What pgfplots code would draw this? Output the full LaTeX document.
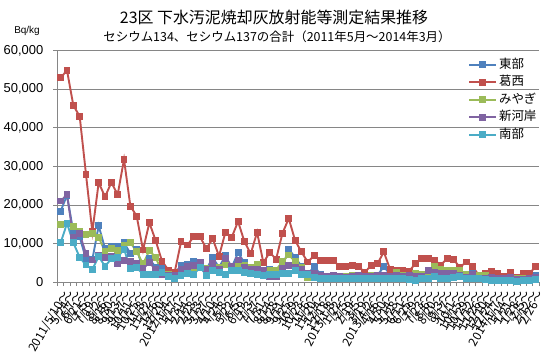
\documentclass[border=0pt]{standalone}
\usepackage{fontspec}
\setmainfont{Liberation Sans}
\newfontfamily\cjk{Noto Sans CJK JP}
\usepackage{pgfplots}
\pgfplotsset{compat=1.18}
\definecolor{cBlue}{HTML}{4F81BD}
\definecolor{cRed}{HTML}{C0504D}
\definecolor{cGreen}{HTML}{9BBB59}
\definecolor{cPurple}{HTML}{8064A2}
\definecolor{cCyan}{HTML}{4BACC6}
\definecolor{axisgray}{HTML}{868686}
\begin{document}
\begin{tikzpicture}
\path[use as bounding box] (0,0) rectangle (544bp,364bp);
\node[font=\cjk\fontsize{16}{16}\selectfont] at (274bp,347bp) {23区 下水汚泥焼却灰放射能等測定結果推移};
\node[font=\cjk\fontsize{12.5}{12.5}\selectfont] at (277bp,327bp) {セシウム134、セシウム137の合計（2011年5月～2014年3月）};
\node[font=\fontsize{10}{10}\selectfont] at (27bp,333bp) {Bq/kg};
\begin{axis}[
  at={(57.5bp,82bp)}, anchor=south west,
  scale only axis, width=481.5bp, height=231.3bp,
  xmin=-0.5, xmax=75.5, ymin=0, ymax=60000,
  clip=false,
  axis x line*=bottom, axis y line*=left,
  axis line style={color=axisgray, line width=0.75bp},
  ymajorgrids, major grid style={color=axisgray, line width=0.75bp},
  xtick={0,...,75},
  xticklabels={2011/5/10～,5/24～,6/7～,6/21～,7/5～,7/19～,8/2～,8/16～,8/30～,9/13～,9/27～,10/11～,10/25～,11/8～,11/22～,12/6～,12/20～,2012/1/4～,1/17～,1/31～,2/14～,2/28～,3/13～,3/27～,4/10～,4/24～,5/8～,5/22～,6/5～,6/19～,7/3～,7/17～,7/31～,8/14～,8/28～,9/11～,9/25～,10/9～,10/23～,11/6～,11/20～,12/4～,12/18～,2013/1/8～,1/22～,2/5～,2/19～,3/5～,3/19～,2013/4/2～,4/16～,4/30～,5/14～,5/28～,6/11～,6/25～,7/9～,7/23～,8/6～,8/20～,9/3～,9/17～,10/1～,10/15～,10/29～,11/12～,11/26～,12/10～,12/24～,2014/1/7～,1/14～,1/21～,1/28～,2/5～,2/12～,2/26～},
  minor xtick={-0.5,0.5,...,75.5},
  ytick={0,10000,...,60000},
  minor ytick={0,10000,...,60000},
  major tick length=0pt, minor tick length=4bp, tick align=outside,
  minor tick style={color=axisgray, line width=0.75bp},
  scaled y ticks=false,
  /pgf/number format/1000 sep={,},
  /pgf/number format/assume math mode=true,
  yticklabel style={font=\fontsize{13}{13}\selectfont, anchor=east, inner sep=0pt, xshift=-14bp},
  xticklabel style={font=\cjk\fontsize{12}{12}\selectfont, rotate=60, anchor=east, inner sep=0pt, yshift=-10bp, xshift=-6bp},
  every axis plot/.append style={line width=1.9bp, mark=square*, mark size=2.5bp, mark options={solid}},
  legend style={at={(0.8525,0.968)}, anchor=north west, draw=none, fill=none, inner sep=0pt,
    font=\cjk\fontsize{12.5}{12.5}\selectfont, column sep=2bp, row sep=5bp,
    nodes={inner sep=0pt, text height=10bp, text depth=2.5bp}},
  legend cell align=left,
  legend image code/.code={\draw[mark repeat=2,mark phase=2,#1] plot coordinates {(0bp,0bp) (13.5bp,0bp) (27bp,0bp)};},
]
\addplot[color=cBlue] coordinates {(0,18400)(1,22500)(2,13000)(3,11700)(4,5900)(5,5800)(6,14600)(7,8700)(8,9300)(9,9100)(10,10200)(11,7400)(12,8500)(13,3500)(14,6000)(15,3800)(16,3500)(17,1800)(18,2100)(19,4400)(20,4600)(21,5400)(22,4600)(23,3300)(24,6300)(25,3800)(26,6800)(27,3800)(28,7600)(29,5000)(30,3800)(31,3500)(32,3100)(33,3300)(34,2500)(35,4000)(36,8500)(37,6400)(38,4100)(39,1800)(40,4100)(41,2000)(42,1500)(43,1500)(44,1500)(45,1500)(46,1500)(47,1600)(48,1400)(49,1500)(50,1700)(51,4000)(52,2000)(53,1600)(54,1500)(55,1500)(56,1600)(57,1800)(58,2000)(59,2900)(60,2200)(61,2000)(62,2200)(63,1800)(64,1300)(65,2400)(66,1200)(67,1200)(68,1000)(69,1000)(70,1300)(71,1500)(72,800)(73,1000)(74,1300)(75,1800)};
\addlegendentry{東部}
\addplot[color=cRed] coordinates {(0,53000)(1,54900)(2,45800)(3,43000)(4,27900)(5,13000)(6,25800)(7,22100)(8,25800)(9,22700)(10,31800)(11,19700)(12,17100)(13,8300)(14,15400)(15,10700)(16,5400)(17,3100)(18,2600)(19,10400)(20,9600)(21,11700)(22,11700)(23,8700)(24,11200)(25,6700)(26,12900)(27,11600)(28,15700)(29,10500)(30,7300)(31,12900)(32,5000)(33,7700)(34,5900)(35,12600)(36,16500)(37,10800)(38,7800)(39,5200)(40,6800)(41,5600)(42,5600)(43,5600)(44,4100)(45,4100)(46,4300)(47,4100)(48,2500)(49,4300)(50,4700)(51,7800)(52,3300)(53,3100)(54,3000)(55,2800)(56,4800)(57,6000)(58,6000)(59,5700)(60,4400)(61,6100)(62,5900)(63,3800)(64,5200)(65,4000)(66,1800)(67,2100)(68,2800)(69,2200)(70,1400)(71,2500)(72,1200)(73,2200)(74,2200)(75,4100)};
\addlegendentry{葛西}
\addplot[color=cGreen] coordinates {(0,15000)(1,15100)(2,14300)(3,13000)(4,12400)(5,12600)(6,11600)(7,7900)(8,8700)(9,8100)(10,9400)(11,10200)(12,7900)(13,4700)(14,8100)(15,6400)(16,2400)(17,2000)(18,1800)(19,2600)(20,3300)(21,3700)(22,4100)(23,3500)(24,3700)(25,3900)(26,4400)(27,4100)(28,4400)(29,4400)(30,3800)(31,4600)(32,2900)(33,2900)(34,3100)(35,5300)(36,7000)(37,5300)(38,3700)(39,1100)(40,1500)(41,1400)(42,1300)(43,1300)(44,1300)(45,1400)(46,1800)(47,1500)(48,1300)(49,1800)(50,1500)(51,1600)(52,1500)(53,2400)(54,1600)(55,1700)(56,2100)(57,2000)(58,2200)(59,4000)(60,3300)(61,3100)(62,2900)(63,2900)(64,2000)(65,1800)(66,1800)(67,1600)(68,1200)(69,1000)(70,1000)(71,1000)(72,800)(73,900)(74,1000)(75,1000)};
\addlegendentry{みやぎ}
\addplot[color=cPurple] coordinates {(0,21000)(1,22700)(2,11500)(3,12500)(4,7300)(5,5700)(6,7000)(7,6400)(8,6700)(9,4800)(10,5500)(11,5300)(12,4800)(13,3500)(14,5000)(15,3300)(16,2000)(17,1800)(18,1800)(19,3300)(20,4000)(21,4300)(22,5100)(23,3300)(24,4800)(25,3300)(26,6100)(27,4100)(28,5700)(29,3800)(30,3300)(31,3300)(32,2900)(33,1400)(34,1400)(35,3500)(36,4300)(37,3800)(38,3300)(39,2100)(40,2100)(41,1800)(42,1500)(43,1800)(44,1500)(45,1200)(46,1400)(47,1800)(48,1400)(49,1500)(50,1600)(51,1800)(52,1500)(53,1600)(54,1500)(55,1600)(56,1500)(57,1500)(58,2900)(59,2500)(60,2200)(61,2200)(62,2100)(63,1600)(64,1200)(65,1900)(66,1000)(67,1000)(68,1200)(69,1000)(70,1000)(71,1100)(72,700)(73,700)(74,1000)(75,1200)};
\addlegendentry{新河岸}
\addplot[color=cCyan] coordinates {(0,10200)(1,15200)(2,10200)(3,6400)(4,4400)(5,3300)(6,6600)(7,4100)(8,6000)(9,6400)(10,8500)(11,3500)(12,3800)(13,2000)(14,2000)(15,2000)(16,2400)(17,1400)(18,1000)(19,1800)(20,2200)(21,2000)(22,3800)(23,1800)(24,2900)(25,2400)(26,2000)(27,2900)(28,2900)(29,2400)(30,2200)(31,2000)(32,1800)(33,2000)(34,2000)(35,2200)(36,2200)(37,2900)(38,2000)(39,2000)(40,1200)(41,1000)(42,900)(43,900)(44,900)(45,900)(46,900)(47,900)(48,900)(49,1000)(50,1000)(51,1000)(52,1000)(53,900)(54,900)(55,700)(56,300)(57,900)(58,1000)(59,1400)(60,1000)(61,1000)(62,1200)(63,1400)(64,900)(65,900)(66,900)(67,700)(68,400)(69,400)(70,400)(71,400)(72,100)(73,300)(74,400)(75,700)};
\addlegendentry{南部}
\end{axis}
\end{tikzpicture}
\end{document}
